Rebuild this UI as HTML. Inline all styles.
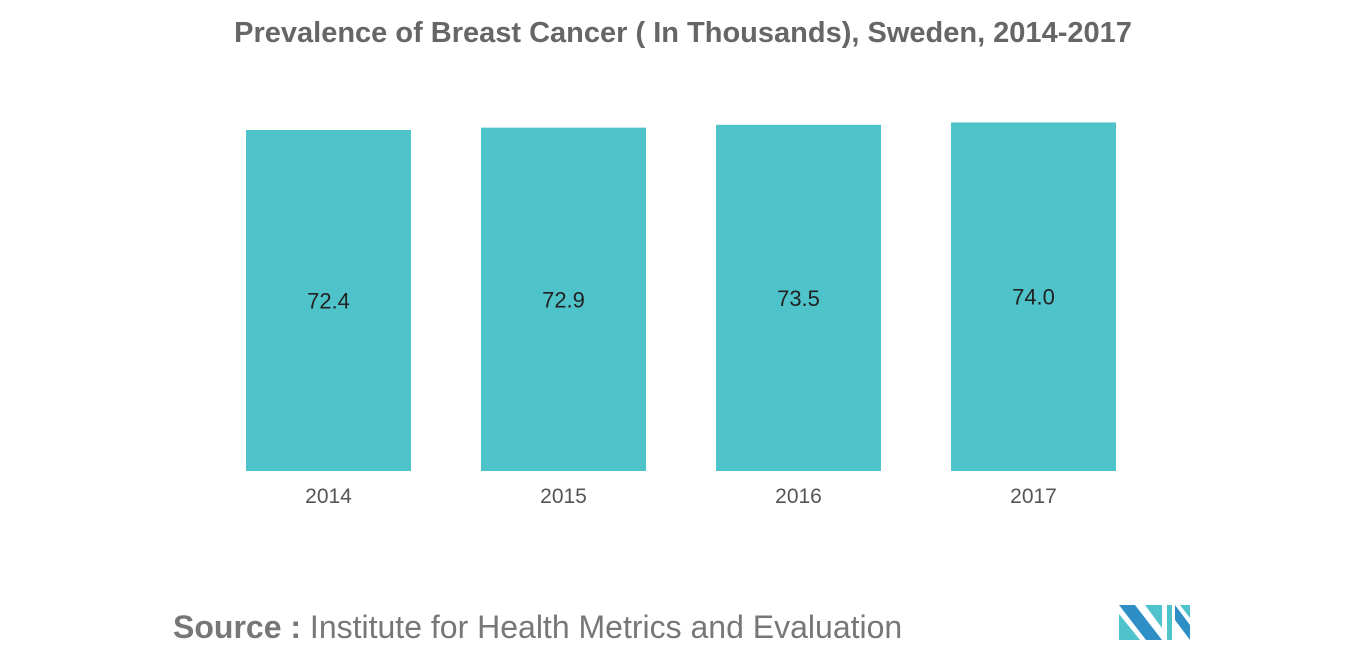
<!DOCTYPE html>
<html><head><meta charset="utf-8"><style>
body{margin:0;width:1366px;height:655px;background:#fff;overflow:hidden;font-family:"Liberation Sans",sans-serif}
</style></head><body>
<svg width="1366" height="655">
<text x="683" y="42" text-anchor="middle" font-size="29" font-weight="bold" fill="#666">Prevalence of Breast Cancer ( In Thousands), Sweden, 2014-2017</text>
<g id="bars"></g>
<text x="173" y="638" font-size="32" fill="#777"><tspan font-weight="bold">Source :</tspan> Institute for Health Metrics and Evaluation</text>
<g>
<polygon points="1119,605 1135,605 1162,640 1146,640" fill="#2d8fc5"/>
<polygon points="1119,614 1140,640 1119,640" fill="#4fc3cc"/>
<polygon points="1145,605 1162,605 1162,628" fill="#4fc3cc"/>
<polygon points="1167,605 1172,605 1172,640 1167,640" fill="#4fc3cc"/>
<polygon points="1175,605 1190,625 1190,640 1175,620" fill="#2d8fc5"/>
<polygon points="1180,605 1190,605 1190,618" fill="#4fc3cc"/>
</g>
</svg>
<script>
const categories=["2014","2015","2016","2017"];
const values=[72.4,72.9,73.5,74.0];
const labels=["72.4","72.9","73.5","74.0"];
const base=471,scale=4.71,x0=246,step=235,bw=165;
const y=v=>base-v*scale, x=i=>x0+i*step;
const g=document.getElementById('bars'),ns='http://www.w3.org/2000/svg';
categories.forEach((c,i)=>{
 const r=document.createElementNS(ns,'rect');
 r.setAttribute('x',x(i));r.setAttribute('y',y(values[i]));r.setAttribute('width',bw);r.setAttribute('height',base-y(values[i]));r.setAttribute('fill','#4fc3ca');
 
 
 g.appendChild(r);
 const t=document.createElementNS(ns,'text');
 t.setAttribute('x',x(i)+bw/2);t.setAttribute('y',(y(values[i])+base)/2+8);t.setAttribute('text-anchor','middle');t.setAttribute('font-size','22');t.setAttribute('fill','#222');
 t.textContent=labels[i];
 
 
 g.appendChild(t);
 const a=document.createElementNS(ns,'text');
 a.setAttribute('x',x(i)+bw/2);a.setAttribute('y',503);a.setAttribute('text-anchor','middle');a.setAttribute('font-size','21');a.setAttribute('fill','#555');
 a.textContent=c;
 
 
 g.appendChild(a);
});
</script>
</body></html>
